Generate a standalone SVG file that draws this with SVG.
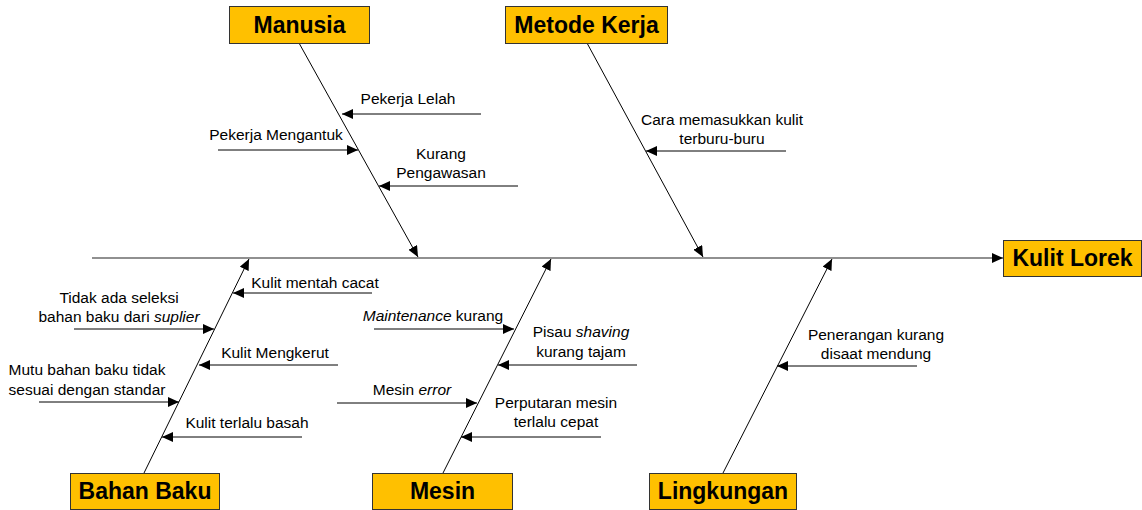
<svg xmlns="http://www.w3.org/2000/svg" width="1142" height="510" viewBox="0 0 1142 510">
<style>
.box{fill:#FFC000;stroke:#333;stroke-width:1}
.title{font-family:"Liberation Sans",Arial,sans-serif;font-size:23px;font-weight:bold;fill:#000;text-anchor:middle}
.lbl{font-family:"Liberation Sans",Arial,sans-serif;font-size:15.5px;fill:#000}
.c{text-anchor:middle}
.ln{stroke:#000;stroke-width:1;fill:none;marker-end:url(#ah)}
.sp{stroke:#222;stroke-width:1.2;fill:none;marker-end:url(#ah)}
</style>
<defs>
<marker id="ah" markerUnits="userSpaceOnUse" markerWidth="12" markerHeight="10" refX="11" refY="5" orient="auto">
<path d="M0,0 L11,5 L0,10 z" fill="#000"/>
</marker>
</defs>
<rect width="1142" height="510" fill="#fff"/>
<g id="connectors">
<line class="sp" x1="92" y1="258" x2="1003" y2="258"/>
<line class="ln" x1="299" y1="43" x2="418" y2="257"/>
<line class="ln" x1="587" y1="43" x2="703" y2="257"/>
<line class="ln" x1="144" y1="473" x2="249" y2="259"/>
<line class="ln" x1="443" y1="473" x2="551" y2="259"/>
<line class="ln" x1="723" y1="473" x2="832" y2="259"/>
<line class="ln" x1="481" y1="114" x2="342" y2="114"/>
<line class="ln" x1="218" y1="150" x2="358" y2="150"/>
<line class="ln" x1="518" y1="186" x2="379" y2="186"/>
<line class="ln" x1="786" y1="151" x2="646" y2="151"/>
<line class="ln" x1="372" y1="293" x2="233" y2="293"/>
<line class="ln" x1="74" y1="329" x2="214" y2="329"/>
<line class="ln" x1="338" y1="365" x2="199" y2="365"/>
<line class="ln" x1="39" y1="402" x2="179" y2="402"/>
<line class="ln" x1="302" y1="437" x2="162" y2="437"/>
<line class="ln" x1="374" y1="329" x2="514" y2="329"/>
<line class="ln" x1="637" y1="365" x2="498" y2="365"/>
<line class="ln" x1="337" y1="403" x2="477" y2="403"/>
<line class="ln" x1="601" y1="437" x2="461" y2="437"/>
<line class="ln" x1="917" y1="366" x2="777" y2="366"/>
</g>
<g id="manusia"><rect class="box" x="229.5" y="6.5" width="140" height="37"/><text class="title" x="299.5" y="33">Manusia</text></g>
<g id="metode-kerja"><rect class="box" x="505.5" y="6.5" width="162" height="37"/><text class="title" x="586.5" y="33">Metode Kerja</text></g>
<g id="bahan-baku"><rect class="box" x="70.5" y="473.5" width="149" height="36"/><text class="title" x="145" y="499">Bahan Baku</text></g>
<g id="mesin"><rect class="box" x="372.5" y="473.5" width="140" height="36"/><text class="title" x="442.5" y="499">Mesin</text></g>
<g id="lingkungan"><rect class="box" x="649.5" y="473.5" width="147" height="36"/><text class="title" x="723" y="499">Lingkungan</text></g>
<g id="kulit-lorek"><rect class="box" x="1003.5" y="240.5" width="138" height="36"/><text class="title" x="1072.5" y="266">Kulit Lorek</text></g>
<g id="labels">
<text class="lbl c" x="408" y="104">Pekerja Lelah</text>
<text class="lbl c" x="276" y="140">Pekerja Mengantuk</text>
<text class="lbl c" x="441" y="159">Kurang</text>
<text class="lbl c" x="441" y="178">Pengawasan</text>
<text class="lbl c" x="722" y="125">Cara memasukkan kulit</text>
<text class="lbl c" x="722" y="144">terburu-buru</text>
<text class="lbl c" x="315" y="288">Kulit mentah cacat</text>
<text class="lbl c" x="119" y="303">Tidak ada seleksi</text>
<text class="lbl c" x="119" y="322">bahan baku dari <tspan font-style="italic">suplier</tspan></text>
<text class="lbl c" x="275" y="358">Kulit Mengkerut</text>
<text class="lbl c" x="87" y="375">Mutu bahan baku tidak</text>
<text class="lbl c" x="87" y="395">sesuai dengan standar</text>
<text class="lbl c" x="247" y="428">Kulit terlalu basah</text>
<text class="lbl c" x="433" y="321"><tspan font-style="italic">Maintenance</tspan> kurang</text>
<text class="lbl c" x="581" y="337">Pisau <tspan font-style="italic">shaving</tspan></text>
<text class="lbl c" x="581" y="357">kurang tajam</text>
<text class="lbl c" x="412" y="395">Mesin <tspan font-style="italic">error</tspan></text>
<text class="lbl c" x="556" y="408">Perputaran mesin</text>
<text class="lbl c" x="556" y="427">terlalu cepat</text>
<text class="lbl c" x="876" y="340">Penerangan kurang</text>
<text class="lbl c" x="876" y="359">disaat mendung</text>
</g>
</svg>
